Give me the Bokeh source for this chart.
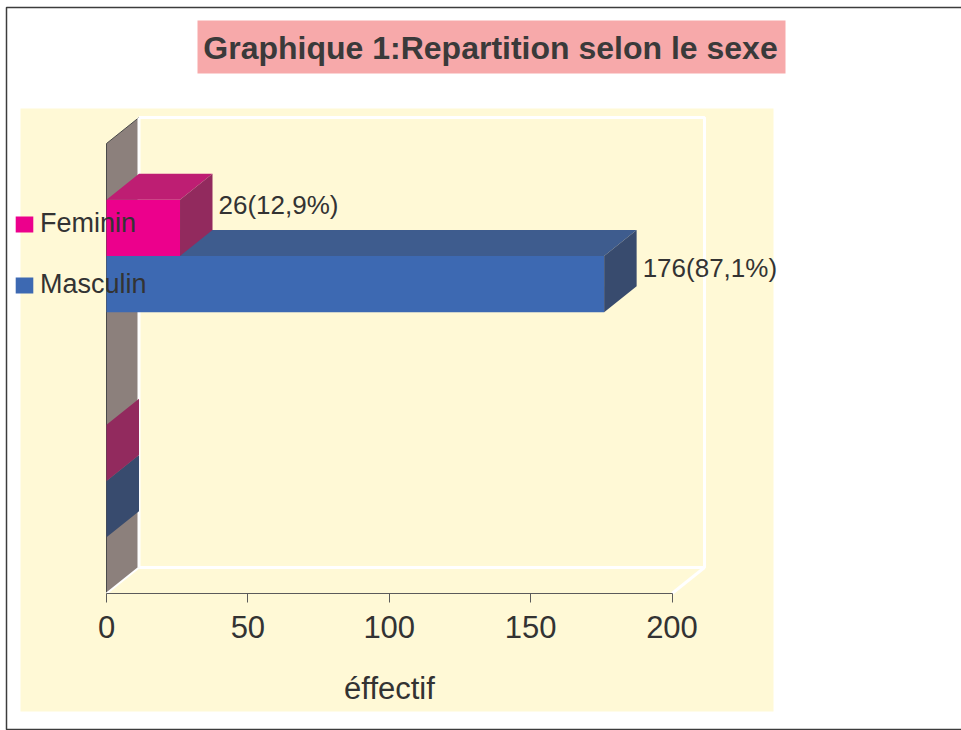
from bokeh.plotting import figure
from bokeh.models import Range1d, LinearAxis, FixedTicker, Legend, LegendItem, Label
from bokeh.core.properties import value
from bokeh.embed import file_html
from bokeh.resources import INLINE

# ---------------- data ----------------
title_text = "Graphique 1:Repartition selon le sexe"
series = ["Feminin", "Masculin"]
categories = ["Sexe", ""]          # second category is empty (zero bars)
feminin = [26, 0]
masculin = [176, 0]
x_ticks = [0, 50, 100, 150, 200]
x_label = "éffectif"

# ---------------- styles ----------------
FONT = "Liberation Sans"
TXT = "#333333"
front_col = ["#EC008C", "#3D69B2"]
top_col = ["#BE1E73", "#3E5C8E"]
side_col = ["#922A5E", "#384B6E"]
wall_col = "#8C807C"
bg_col = "#FFF9D6"

W, H = 961, 730
PX0, SX = 106.0, 2.8275     # pixel of x=0, px per unit
PY0, SY = 593.0, 225.0      # pixel (from top) of y=0, px per unit
XMAX, YMAX = x_ticks[-1], len(categories)
DX, DY = 32.5 / SX, 26.0 / SY   # 3D depth offset

def fx(px):
    return (px - PX0) / SX

def fy(py):
    return (PY0 - py) / SY

p = figure(width=W, height=H,
           x_range=Range1d(fx(0), fx(W)),
           y_range=Range1d(fy(H), fy(0)),
           output_backend="svg", toolbar_location=None,
           x_axis_location=None, y_axis_location=None,
           min_border=0, min_border_left=0, min_border_right=0,
           min_border_top=0, min_border_bottom=0)
for g in p.grid:
    g.visible = False
p.background_fill_color = "white"
p.border_fill_color = "white"
p.outline_line_color = None

# page frame (left, top, bottom edges)
p.line(x=[fx(970), fx(6), fx(6), fx(970)], y=[fy(7), fy(7), fy(729), fy(729)],
       line_color="#3c3c3c", line_width=1.5)

# chart area background and title box
p.quad(left=fx(20), right=fx(773), top=fy(108), bottom=fy(711), fill_color=bg_col, line_color=None)
p.quad(left=fx(197), right=fx(785), top=fy(20), bottom=fy(73), fill_color="#F7A9AA", line_color=None)
p.add_layout(Label(x=fx(490), y=fy(47), text=title_text, text_align="center", text_baseline="middle",
                   text_font=FONT, text_font_size="32px", text_font_style="bold", text_color="#3A3A3A"))

# back wall + floor edges (white)
p.line(x=[DX, DX + XMAX, DX + XMAX, DX], y=[DY + YMAX, DY + YMAX, DY, DY], line_color="white", line_width=3)
p.line(x=[XMAX, XMAX + DX], y=[0, DY], line_color="white", line_width=3)
# left wall
p.patch(x=[0, DX, DX, 0], y=[0, DY, DY + YMAX, YMAX], fill_color=wall_col, line_color=None)
p.line(x=[0, 0, DX], y=[0, YMAX, YMAX + DY], line_color="#4a4a4a", line_width=1)
p.line(x=[DX, DX], y=[DY, DY + YMAX], line_color="white", line_width=3)
p.line(x=[0, DX], y=[0, DY], line_color="white", line_width=2)

# x axis
xaxis = LinearAxis(fixed_location=0, bounds=(0, XMAX), ticker=FixedTicker(ticks=x_ticks), axis_label=x_label)
xaxis.axis_line_color = "#5b5b5b"
xaxis.major_tick_line_color = "#5b5b5b"
xaxis.major_tick_out = 9
xaxis.major_tick_in = 0
xaxis.minor_tick_line_color = None
xaxis.major_label_text_font = FONT
xaxis.major_label_text_font_size = "31px"
xaxis.major_label_text_color = TXT
xaxis.major_label_standoff = 13
xaxis.axis_label_text_font = FONT
xaxis.axis_label_text_font_size = "31px"
xaxis.axis_label_text_font_style = "normal"
xaxis.axis_label_text_color = TXT
xaxis.axis_label_standoff = 30
p.add_layout(xaxis, "below")

# bars (3D)
values = [feminin, masculin]
bar_h = 0.25
front_renderers = {}
total = sum(feminin) + sum(masculin)
label_nudge = [10 / SY, 3 / SY]
lab_x, lab_y, lab_t = [], [], []
for j in [1, 0]:  # draw lower series first
    vals = values[j]
    lefts, rights, tops, bottoms = [], [], [], []
    top_xs, top_ys, side_xs, side_ys = [], [], [], []
    for i, v in enumerate(vals):
        yc = YMAX - 0.5 - i
        b = yc - bar_h if j == 1 else yc
        t = b + bar_h
        lefts.append(0); rights.append(v); bottoms.append(b); tops.append(t)
        top_xs.append([0, v, v + DX, DX]); top_ys.append([t, t, t + DY, t + DY])
        side_xs.append([v, v + DX, v + DX, v]); side_ys.append([b, b + DY, t + DY, t])
        if v > 0:
            pct = f"{v / total * 100:.1f}".replace(".", ",")
            lab_x.append(v + DX + 6 / SX)
            lab_y.append((b + t) / 2 + DY / 2 + label_nudge[j])
            lab_t.append(f"{v}({pct}%)")
    r = p.quad(left=lefts, right=rights, top=tops, bottom=bottoms, fill_color=front_col[j], line_color=None)
    front_renderers[j] = r
    p.patches(xs=top_xs, ys=top_ys, fill_color=top_col[j], line_color=None)
    p.patches(xs=side_xs, ys=side_ys, fill_color=side_col[j], line_color=None)

p.text(x=lab_x, y=lab_y, text=lab_t, text_font=value(FONT), text_font_size="26px",
       text_color=TXT, text_baseline="middle", text_align="left")

legend = Legend(items=[LegendItem(label=series[0], renderers=[front_renderers[0]]),
                       LegendItem(label=series[1], renderers=[front_renderers[1]])],
                location=(13, 430), orientation="vertical", padding=0, margin=0, spacing=30,
                glyph_width=22, glyph_height=20, label_height=30, label_standoff=5,
                background_fill_alpha=0, border_line_color=None,
                label_text_font=FONT, label_text_font_size="27px", label_text_color=TXT)
p.add_layout(legend, "center")

open("out.html", "w").write(file_html(p, INLINE))
